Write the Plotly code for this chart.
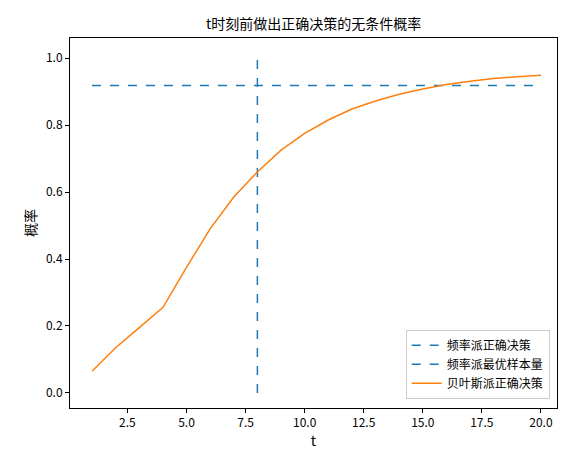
import plotly.graph_objects as go

t = list(range(1, 21))
bayes_prob = [0.065, 0.135, 0.195, 0.255, 0.375, 0.49, 0.585, 0.66, 0.725, 0.775,
              0.815, 0.848, 0.872, 0.892, 0.908, 0.921, 0.931, 0.939, 0.944, 0.949]
freq_prob = 0.918
freq_n = 8

FONT = 'Noto Sans CJK SC'
BLUE = '#1f77b4'
ORANGE = '#ff7f0e'

fig = go.Figure()
fig.add_trace(go.Scatter(x=[t[0], t[-1]], y=[freq_prob, freq_prob], mode='lines',
                         line=dict(color=BLUE, dash='dash', width=1.5), name='频率派正确决策'))
fig.add_trace(go.Scatter(x=[freq_n, freq_n], y=[0, 1], mode='lines',
                         line=dict(color=BLUE, dash='dash', width=1.5), name='频率派最优样本量'))
fig.add_trace(go.Scatter(x=t, y=bayes_prob, mode='lines',
                         line=dict(color=ORANGE, width=1.5), name='贝叶斯派正确决策'))

axis = dict(showgrid=False, zeroline=False, showline=True, mirror=True, linecolor='black',
            linewidth=1, ticks='outside', ticklen=4, tickcolor='black', automargin=False)
fig.update_layout(
    width=566, height=455,
    margin=dict(l=62, r=17, t=30, b=55, autoexpand=False),
    plot_bgcolor='white', paper_bgcolor='white',
    font=dict(family=FONT, size=12, color='black'),
    title=dict(text='t时刻前做出正确决策的无条件概率', x=0.54, xanchor='center', y=0.975,
               font=dict(size=14), automargin=False),
    xaxis=dict(axis, range=[0.07, 20.68], tickvals=[2.5, 5, 7.5, 10, 12.5, 15, 17.5, 20],
               ticktext=['2.5', '5.0', '7.5', '10.0', '12.5', '15.0', '17.5', '20.0'],
               title=dict(text='t', standoff=4)),
    yaxis=dict(axis, range=[-0.045, 1.06], tickvals=[0, 0.2, 0.4, 0.6, 0.8, 1.0],
               ticktext=['0.0', '0.2', '0.4', '0.6', '0.8', '1.0'],
               title=dict(text='概率', standoff=6)),
    legend=dict(x=0.985, y=0.025, xanchor='right', yanchor='bottom', bordercolor='#ccc',
                borderwidth=1, bgcolor='rgba(255,255,255,0.8)', font=dict(size=12)),
)
fig.write_html("out.html")
